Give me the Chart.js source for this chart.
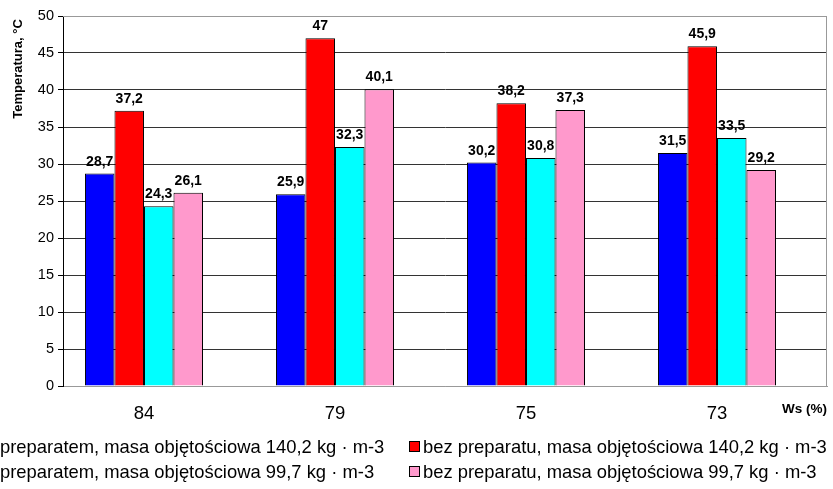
<!DOCTYPE html>
<html>
<head>
<meta charset="utf-8">
<script src="https://cdn.jsdelivr.net/npm/chart.js@4/dist/chart.umd.min.js"></script>
<style>
  html, body { margin: 0; padding: 0; background: #fff; }
  #wrap { width: 833px; height: 489px; position: relative; }
</style>
</head>
<body>
<div id="wrap"><canvas id="c" width="833" height="489"></canvas></div>
<script>
// Ws (%) groups on the horizontal axis
const categories = ['84', '79', '75', '73'];

// Temperature (°C) for each series
const zPrep140 = [28.7, 25.9, 30.2, 31.5];
const bezPrep140 = [37.2, 47, 38.2, 45.9];
const zPrep99 = [24.3, 32.3, 30.8, 33.5];
const bezPrep99 = [26.1, 40.1, 37.3, 29.2];

const seriesLabels = [
  'preparatem, masa objętościowa 140,2 kg · m-3',
  'bez preparatu, masa objętościowa 140,2 kg · m-3',
  'preparatem, masa objętościowa 99,7 kg · m-3',
  'bez preparatu, masa objętościowa 99,7 kg · m-3'
];
const seriesColors = ['#0000FF', '#FF0000', '#00FFFF', '#FF99CC'];

const yTicks = [0, 5, 10, 15, 20, 25, 30, 35, 40, 45, 50];

const FONT = '"Liberation Sans", Arial, sans-serif';

function toPoints(arr) { return arr.map((v, i) => ({ x: i, y: v })); }

const seriesData = [zPrep140, bezPrep140, zPrep99, bezPrep99];

// Value labels above every bar
const barLabels = {
  id: 'barLabels',
  afterDatasetsDraw(chart) {
    const ctx = chart.ctx;
    ctx.save();
    ctx.font = 'bold 14px ' + FONT;
    ctx.fillStyle = '#000';
    ctx.textAlign = 'center';
    ctx.textBaseline = 'alphabetic';
    chart.data.datasets.forEach((ds, di) => {
      const meta = chart.getDatasetMeta(di);
      meta.data.forEach((bar, i) => {
        const v = seriesData[di][i];
        ctx.fillText(String(v).replace('.', ','), bar.x, bar.y - 8);
      });
    });
    ctx.restore();
  }
};

// Plot frame, axis captions and the two-column legend
const frame = {
  id: 'frame',
  beforeDatasetsDraw(chart) {
    const a = chart.chartArea;
    const ctx = chart.ctx;
    ctx.save();
    ctx.strokeStyle = '#999';
    ctx.lineWidth = 1;
    ctx.beginPath();
    ctx.moveTo(a.left, a.top + 0.5);
    ctx.lineTo(a.right - 0.5, a.top + 0.5);
    ctx.lineTo(a.right - 0.5, a.bottom);
    ctx.stroke();
    ctx.restore();
  },
  afterDraw(chart) {
    const ctx = chart.ctx;
    ctx.save();
    // y axis caption
    ctx.fillStyle = '#000';
    ctx.font = 'bold 13px ' + FONT;
    ctx.translate(18, 69);
    ctx.rotate(-Math.PI / 2);
    ctx.textAlign = 'center';
    ctx.textBaseline = 'middle';
    ctx.fillText('Temperatura, °C', 0, 0);
    ctx.restore();

    ctx.save();
    ctx.fillStyle = '#000';
    ctx.font = 'bold 13.5px ' + FONT;
    ctx.textAlign = 'right';
    ctx.textBaseline = 'middle';
    ctx.fillText('Ws (%)', 827, 409);
    ctx.restore();

    // legend
    ctx.save();
    ctx.font = '18.4px ' + FONT;
    ctx.textBaseline = 'alphabetic';
    ctx.textAlign = 'left';
    const rows = [453, 478];
    chart.data.datasets.forEach((ds, di) => {
      const col = di % 2;
      const y = rows[Math.floor(di / 2)];
      if (col === 1) {
        ctx.fillStyle = ds.backgroundColor;
        ctx.fillRect(409.5, y - 11.5, 10, 10);
        ctx.strokeStyle = '#000';
        ctx.lineWidth = 1;
        ctx.strokeRect(409.5, y - 11.5, 10, 10);
        ctx.fillStyle = '#000';
        ctx.fillText(ds.label, 423, y);
      } else {
        ctx.fillStyle = '#000';
        ctx.fillText(ds.label, 0, y);
      }
    });
    ctx.restore();
  }
};

new Chart(document.getElementById('c'), {
  type: 'bar',
  data: {
    datasets: seriesData.map((arr, i) => ({
      label: seriesLabels[i],
      data: toPoints(arr),
      backgroundColor: seriesColors[i],
      borderColor: '#000',
      borderWidth: 1,
      categoryPercentage: 0.618,
      barPercentage: 1.0
    }))
  },
  options: {
    responsive: false,
    animation: false,
    layout: { padding: { top: 16, right: 6, left: 0, bottom: 0 } },
    plugins: {
      legend: { display: false },
      tooltip: { enabled: false }
    },
    scales: {
      x: {
        type: 'linear',
        offset: false,
        min: -0.424,
        max: 3.576,
        afterBuildTicks(scale) {
          scale.ticks = categories.map((c, i) => ({ value: i }));
        },
        afterFit(scale) { scale.height = 103; },
        ticks: {
          callback: (v) => categories[v],
          font: { family: FONT, size: 18.5 },
          color: '#000',
          padding: 17,
          maxRotation: 0,
          autoSkip: false
        },
        grid: { display: false, drawTicks: false },
        border: { color: '#999', width: 1 }
      },
      y: {
        min: 0,
        max: 50,
        afterBuildTicks(scale) {
          scale.ticks = yTicks.map(v => ({ value: v }));
        },
        afterFit(scale) { scale.width = 63; },
        ticks: {
          font: { family: FONT, size: 14.5 },
          color: '#000',
          padding: 4
        },
        grid: {
          color: (c) => (c.tick && (c.tick.value === 50 || c.tick.value === 0)) ? '#999' : '#333',
          tickColor: '#000',
          tickLength: 5,
          lineWidth: 1
        },
        border: { color: '#000', width: 1 }
      }
    }
  },
  plugins: [barLabels, frame]
});
</script>
</body>
</html>
